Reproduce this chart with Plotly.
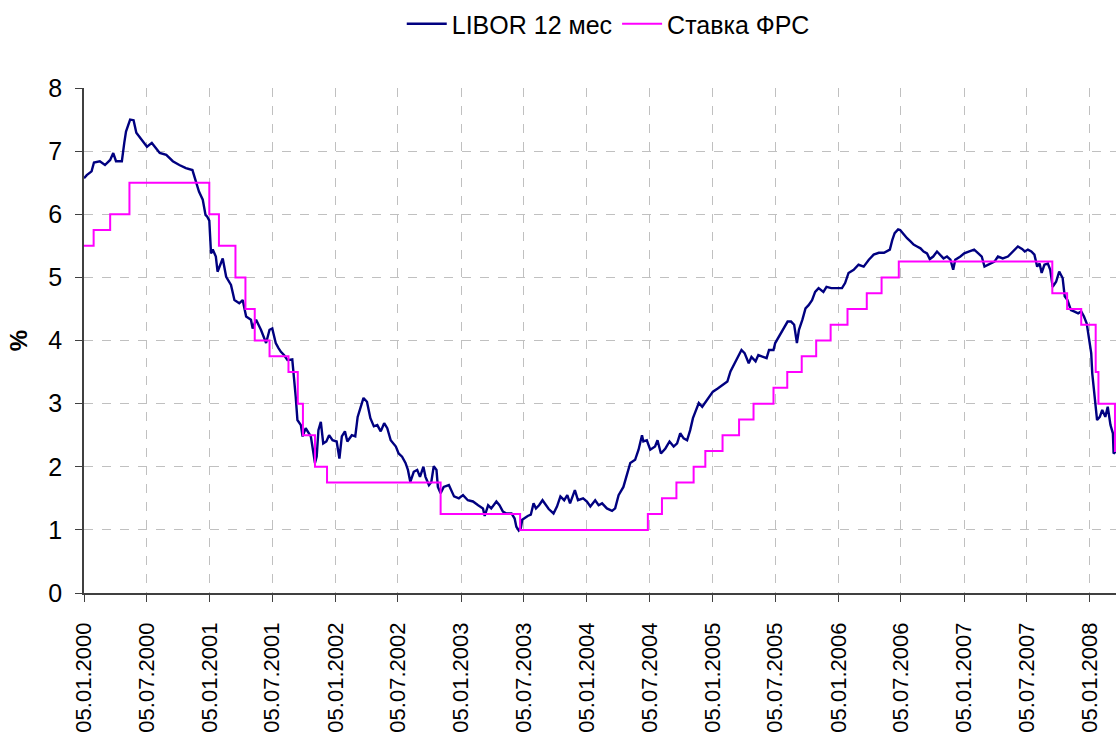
import plotly.graph_objects as go

# ---------------- data ----------------
libor_dates = [
    "2000-01-05", "2000-01-13", "2000-01-27", "2000-02-03", "2000-02-20", "2000-03-06", "2000-03-21",
    "2000-03-30", "2000-04-07", "2000-04-24", "2000-05-01", "2000-05-06", "2000-05-18", "2000-05-28",
    "2000-06-05", "2000-06-16", "2000-07-06", "2000-07-20", "2000-08-12", "2000-08-31", "2000-09-19",
    "2000-10-08", "2000-10-27", "2000-11-15", "2000-11-24", "2000-12-04", "2000-12-15", "2000-12-23",
    "2000-12-28", "2001-01-03", "2001-01-08", "2001-01-13", "2001-01-22", "2001-01-27", "2001-02-11",
    "2001-02-21", "2001-03-07", "2001-03-17", "2001-03-31", "2001-04-10", "2001-04-20", "2001-05-04",
    "2001-05-09", "2001-05-19", "2001-06-02", "2001-06-17", "2001-06-27", "2001-07-05", "2001-07-08",
    "2001-07-15", "2001-07-23", "2001-07-30", "2001-08-08", "2001-08-18", "2001-09-01", "2001-09-06",
    "2001-09-11", "2001-09-16", "2001-09-26", "2001-10-01", "2001-10-10", "2001-10-25", "2001-10-30",
    "2001-11-06", "2001-11-11", "2001-11-16", "2001-11-23", "2001-11-30", "2001-12-09", "2001-12-17",
    "2001-12-27", "2002-01-08", "2002-01-16", "2002-01-23", "2002-02-01", "2002-02-08", "2002-02-21",
    "2002-03-03", "2002-03-10", "2002-03-18", "2002-03-27", "2002-04-06", "2002-04-16", "2002-04-26",
    "2002-05-06", "2002-05-16", "2002-05-26", "2002-06-04", "2002-06-14", "2002-06-29", "2002-07-07",
    "2002-07-17", "2002-07-27", "2002-08-03", "2002-08-10", "2002-08-20", "2002-08-30", "2002-09-07",
    "2002-09-17", "2002-09-23", "2002-10-03", "2002-10-10", "2002-10-17", "2002-10-25", "2002-10-29",
    "2002-11-06", "2002-11-15", "2002-11-30", "2002-12-15", "2002-12-29", "2003-01-10", "2003-01-24",
    "2003-02-08", "2003-02-23", "2003-03-09", "2003-03-14", "2003-03-24", "2003-04-02", "2003-04-17",
    "2003-04-26", "2003-05-06", "2003-05-16", "2003-05-31", "2003-06-09", "2003-06-14", "2003-06-21",
    "2003-06-27", "2003-07-01", "2003-07-06", "2003-07-17", "2003-07-26", "2003-08-03", "2003-08-10",
    "2003-08-19", "2003-08-29", "2003-09-07", "2003-09-16", "2003-09-30", "2003-10-10", "2003-10-20",
    "2003-10-31", "2003-11-09", "2003-11-17", "2003-12-01", "2003-12-10", "2003-12-25", "2004-01-05",
    "2004-01-15", "2004-01-29", "2004-02-08", "2004-02-18", "2004-03-03", "2004-03-18", "2004-03-27",
    "2004-04-06", "2004-04-20", "2004-04-30", "2004-05-10", "2004-05-24", "2004-06-03", "2004-06-13",
    "2004-06-17", "2004-06-27", "2004-07-07", "2004-07-21", "2004-07-28", "2004-08-07", "2004-08-20",
    "2004-09-01", "2004-09-13", "2004-09-23", "2004-10-02", "2004-10-12", "2004-10-22", "2004-10-31",
    "2004-11-08", "2004-11-15", "2004-11-25", "2004-12-05", "2004-12-15", "2004-12-24", "2005-01-05",
    "2005-01-19", "2005-02-03", "2005-02-16", "2005-02-25", "2005-03-09", "2005-03-19", "2005-03-29",
    "2005-04-07", "2005-04-19", "2005-04-27", "2005-05-09", "2005-05-17", "2005-05-31", "2005-06-10",
    "2005-06-17", "2005-06-30", "2005-07-05", "2005-07-15", "2005-07-27", "2005-08-10", "2005-08-20",
    "2005-08-29", "2005-09-06", "2005-09-12", "2005-09-22", "2005-10-01", "2005-10-10", "2005-10-20",
    "2005-10-29", "2005-11-08", "2005-11-22", "2005-12-01", "2005-12-15", "2005-12-29", "2006-01-15",
    "2006-01-24", "2006-02-03", "2006-02-18", "2006-03-04", "2006-03-19", "2006-04-03", "2006-04-17",
    "2006-05-02", "2006-05-17", "2006-06-03", "2006-06-10", "2006-06-17", "2006-06-27", "2006-07-03",
    "2006-07-09", "2006-07-18", "2006-07-23", "2006-08-02", "2006-08-11", "2006-08-21", "2006-08-31",
    "2006-09-09", "2006-09-19", "2006-09-27", "2006-10-07", "2006-10-18", "2006-10-28", "2006-11-06",
    "2006-11-16", "2006-11-26", "2006-12-04", "2006-12-10", "2006-12-25", "2007-01-05", "2007-01-20",
    "2007-02-03", "2007-02-15", "2007-02-25", "2007-03-05", "2007-03-15", "2007-03-24", "2007-04-03",
    "2007-04-13", "2007-04-27", "2007-05-12", "2007-05-27", "2007-06-10", "2007-06-22", "2007-06-30",
    "2007-07-09", "2007-07-19", "2007-07-28", "2007-08-05", "2007-08-12", "2007-08-18", "2007-08-26",
    "2007-09-05", "2007-09-12", "2007-09-19", "2007-09-29", "2007-10-08", "2007-10-18", "2007-10-24",
    "2007-11-01", "2007-11-11", "2007-11-20", "2007-12-02", "2007-12-11", "2007-12-19", "2007-12-27",
    "2008-01-02", "2008-01-09", "2008-01-12", "2008-01-16", "2008-01-21", "2008-01-26", "2008-02-03",
    "2008-02-10", "2008-02-19", "2008-02-26", "2008-03-05", "2008-03-12", "2008-03-14", "2008-03-20",
]
libor_values = [
    6.57, 6.62, 6.68, 6.82, 6.84, 6.78, 6.86,
    6.97, 6.84, 6.84, 7.13, 7.31, 7.50, 7.49,
    7.29, 7.21, 7.07, 7.13, 6.97, 6.94, 6.84,
    6.78, 6.73, 6.70, 6.52, 6.36, 6.23, 5.99,
    5.96, 5.90, 5.38, 5.44, 5.33, 5.09, 5.30,
    5.01, 4.88, 4.64, 4.59, 4.64, 4.38, 4.33,
    4.19, 4.33, 4.17, 3.96, 4.17, 4.19, 4.12,
    3.96, 3.88, 3.82, 3.77, 3.69, 3.70, 3.43,
    3.11, 2.74, 2.66, 2.48, 2.61, 2.48, 2.32,
    2.06, 2.16, 2.58, 2.71, 2.37, 2.40, 2.50,
    2.42, 2.40, 2.13, 2.48, 2.56, 2.40, 2.50,
    2.48, 2.79, 2.95, 3.09, 3.03, 2.77, 2.64,
    2.66, 2.56, 2.69, 2.61, 2.42, 2.32, 2.21,
    2.16, 2.06, 1.95, 1.76, 1.92, 1.95, 1.84,
    2.00, 1.84, 1.71, 1.76, 2.01, 1.95, 1.68,
    1.58, 1.68, 1.71, 1.53, 1.50, 1.55, 1.47,
    1.45, 1.39, 1.34, 1.22, 1.39, 1.34, 1.45,
    1.39, 1.29, 1.26, 1.26, 1.18, 1.05, 0.99,
    1.03, 1.16, 1.18, 1.22, 1.24, 1.42, 1.34,
    1.39, 1.47, 1.39, 1.33, 1.26, 1.37, 1.53,
    1.47, 1.55, 1.42, 1.63, 1.47, 1.50, 1.45,
    1.37, 1.47, 1.39, 1.42, 1.34, 1.30, 1.34,
    1.55, 1.68, 1.87, 2.06, 2.11, 2.27, 2.50,
    2.40, 2.42, 2.27, 2.32, 2.42, 2.21, 2.29,
    2.40, 2.32, 2.37, 2.53, 2.45, 2.42, 2.58,
    2.77, 2.87, 3.01, 2.95, 3.03, 3.09, 3.19,
    3.24, 3.30, 3.35, 3.51, 3.64, 3.74, 3.85,
    3.80, 3.64, 3.74, 3.67, 3.77, 3.74, 3.72,
    3.85, 3.85, 3.96, 4.06, 4.17, 4.30, 4.30,
    4.25, 3.96, 4.17, 4.33, 4.51, 4.56, 4.64,
    4.77, 4.83, 4.77, 4.85, 4.83, 4.83, 4.83,
    4.91, 5.07, 5.12, 5.20, 5.17, 5.28, 5.36,
    5.39, 5.39, 5.44, 5.59, 5.70, 5.76, 5.75,
    5.71, 5.65, 5.62, 5.57, 5.52, 5.49, 5.46,
    5.41, 5.38, 5.29, 5.33, 5.41, 5.36, 5.30,
    5.33, 5.28, 5.12, 5.28, 5.33, 5.38, 5.41,
    5.44, 5.38, 5.33, 5.17, 5.20, 5.22, 5.25,
    5.33, 5.30, 5.33, 5.41, 5.49, 5.45, 5.41,
    5.44, 5.41, 5.36, 5.17, 5.22, 5.07, 5.20,
    5.22, 5.12, 4.85, 4.93, 5.09, 4.99, 4.70,
    4.64, 4.48, 4.46, 4.43, 4.46, 4.38, 4.27,
    4.01, 3.80, 3.48, 3.27, 2.95, 2.74, 2.79,
    2.90, 2.79, 2.95, 2.66, 2.53, 2.21, 2.24,
]

fed_dates = [
    "2000-01-05", "2000-02-02", "2000-03-21", "2000-05-16", "2001-01-03", "2001-01-31",
    "2001-03-20", "2001-04-18", "2001-05-15", "2001-06-27", "2001-08-21", "2001-09-17",
    "2001-10-02", "2001-11-06", "2001-12-11", "2002-11-06", "2003-06-25", "2004-06-30",
    "2004-08-10", "2004-09-21", "2004-11-10", "2004-12-14", "2005-02-02", "2005-03-22",
    "2005-05-03", "2005-06-30", "2005-08-09", "2005-09-20", "2005-11-01", "2005-12-13",
    "2006-01-31", "2006-03-28", "2006-05-10", "2006-06-29", "2007-09-18", "2007-10-31",
    "2007-12-11", "2008-01-22", "2008-01-30", "2008-03-18", "2008-03-20",
]
fed_values = [
    5.50, 5.75, 6.00, 6.50, 6.00, 5.50,
    5.00, 4.50, 4.00, 3.75, 3.50, 3.00,
    2.50, 2.00, 1.75, 1.25, 1.00, 1.25,
    1.50, 1.75, 2.00, 2.25, 2.50, 2.75,
    3.00, 3.25, 3.50, 3.75, 4.00, 4.25,
    4.50, 4.75, 5.00, 5.25, 4.75, 4.50,
    4.25, 3.50, 3.00, 2.25, 2.25,
]

tick_dates = [f"{y}-{m}-05" for y in range(2000, 2009) for m in ("01", "07")][:-1]
tick_labels = [f"05.{d[5:7]}.{d[:4]}" for d in tick_dates]

series_names = ["LIBOR 12 мес", "Ставка ФРС"]

# ---------------- figure ----------------
FONT = "Liberation Sans, Arial, sans-serif"

fig = go.Figure()
fig.add_trace(go.Scatter(
    x=libor_dates, y=libor_values, mode="lines", name=series_names[0],
    line=dict(color="#000080", width=2.4),
))
fig.add_trace(go.Scatter(
    x=fed_dates, y=fed_values, mode="lines", name=series_names[1],
    line=dict(color="#FF00FF", width=2, shape="hv"),
))

fig.update_layout(
    width=1116, height=737,
    margin=dict(l=84, r=0, t=88, b=144, autoexpand=False),
    paper_bgcolor="white", plot_bgcolor="white",
    font=dict(family=FONT, size=22, color="black"),
    showlegend=True,
    legend=dict(
        orientation="h", x=0.508, xanchor="center", y=1 - 24 / 737, yref="container",
        yanchor="middle", font=dict(family=FONT, size=25, color="black"),
        bgcolor="rgba(0,0,0,0)", itemwidth=40, tracegroupgap=0,
    ),
    xaxis=dict(
        type="date", range=["2000-01-05", "2008-03-21"], automargin=False,
        tickmode="array", tickvals=tick_dates, ticktext=tick_labels,
        tickangle=-90, tickfont=dict(family=FONT, size=22, color="black"),
        ticks="outside", ticklen=7, tickcolor="#404040", tickwidth=1,
        ticklabelstandoff=12,
        showline=True, linecolor="#404040", linewidth=1.5,
        showgrid=True, gridcolor="#c0c0c0", griddash="dash", gridwidth=1,
        zeroline=False,
    ),
    yaxis=dict(
        range=[0, 8], tickmode="linear", tick0=0, dtick=1, automargin=False,
        tickfont=dict(family=FONT, size=25, color="black"),
        ticks="outside", ticklen=7, tickcolor="#404040", tickwidth=1,
        ticklabelstandoff=8,
        showline=True, linecolor="#404040", linewidth=1.5,
        showgrid=True, gridcolor="#c0c0c0", griddash="dash", gridwidth=1,
        zeroline=False,
        title=dict(text="<b>%</b>", font=dict(family=FONT, size=24, color="black"), standoff=14),
    ),
)

fig.write_html(
    "out.html",
    config={"displayModeBar": False},
    post_script="document.body.style.margin='0px';document.body.style.overflow='hidden';",
)
